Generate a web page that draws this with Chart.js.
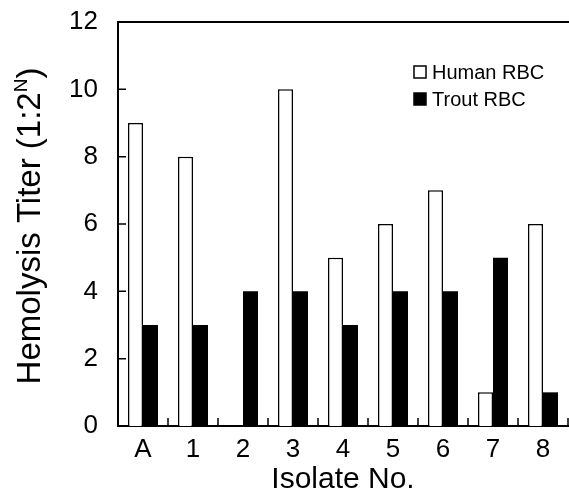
<!DOCTYPE html>
<html>
<head>
<meta charset="utf-8">
<script src="https://cdn.jsdelivr.net/npm/chart.js@4.4.0/dist/chart.umd.min.js"></script>
<style>
  html, body { margin: 0; padding: 0; background: #fff; }
  #wrap { width: 569px; height: 500px; }
</style>
</head>
<body>
<div id="wrap"><canvas id="chart" width="569" height="500"></canvas></div>
<script>
// Data
const isolates = ['A', '1', '2', '3', '4', '5', '6', '7', '8'];
const humanRBC = [9, 8, 0, 10, 5, 6, 7, 1, 6];
const troutRBC = [3, 3, 4, 4, 3, 4, 4, 5, 1];
const yTicks = [0, 2, 4, 6, 8, 10, 12];

const FONT = '"Liberation Sans", Arial, Helvetica, sans-serif';

// inward tick marks, top frame line, y title with superscript, legend
const decorations = {
  id: 'decorations',
  afterDatasetsDraw(chart) {
    const {ctx, chartArea: a, scales: {x, y}} = chart;
    ctx.save();
    ctx.strokeStyle = '#000';
    ctx.lineWidth = 1.5;
    ctx.beginPath();
    yTicks.forEach(v => {
      const py = y.getPixelForValue(v);
      ctx.moveTo(a.left, py);
      ctx.lineTo(a.left + 8, py);
    });
    for (let i = 0; i < isolates.length; i++) {
      const px = x.getPixelForValue(i + 0.5);
      ctx.moveTo(px, a.bottom);
      ctx.lineTo(px, a.bottom - 8);
    }
    ctx.stroke();

    // top frame
    ctx.lineWidth = 2;
    ctx.beginPath();
    ctx.moveTo(a.left, a.top);
    ctx.lineTo(a.right + 2, a.top);
    ctx.stroke();

    // y axis title
    ctx.fillStyle = '#000';
    ctx.translate(40, 226);
    ctx.rotate(-Math.PI / 2);
    ctx.textBaseline = 'alphabetic';
    const main = 'Hemolysis Titer (1:2';
    ctx.font = '33px ' + FONT;
    const w1 = ctx.measureText(main).width;
    ctx.font = '19px ' + FONT;
    const w2 = ctx.measureText('N').width;
    ctx.font = '33px ' + FONT;
    const w3 = ctx.measureText(')').width;
    let sx = -(w1 + w2 + w3) / 2;
    ctx.fillText(main, sx, 0);
    sx += w1;
    ctx.font = '19px ' + FONT;
    ctx.fillText('N', sx, -13);
    sx += w2;
    ctx.font = '33px ' + FONT;
    ctx.fillText(')', sx, 0);
    ctx.restore();

    // legend
    ctx.save();
    ctx.font = '20px ' + FONT;
    ctx.textBaseline = 'middle';
    chart.data.datasets.forEach((ds, i) => {
      const cy = 72 + i * 27;
      ctx.fillStyle = ds.backgroundColor;
      ctx.fillRect(414, cy - 6, 12, 12);
      ctx.strokeStyle = '#000';
      ctx.lineWidth = 1.5;
      ctx.strokeRect(414, cy - 6, 12, 12);
      ctx.fillStyle = '#000';
      ctx.fillText(ds.label, 432, cy + 1);
    });
    ctx.restore();
  }
};

new Chart(document.getElementById('chart'), {
  type: 'bar',
  data: {
    labels: isolates,
    datasets: [
      {
        label: 'Human RBC',
        data: humanRBC,
        backgroundColor: '#ffffff',
        borderColor: '#000000',
        borderWidth: 1.5,
        categoryPercentage: 0.6,
        barPercentage: 1.0
      },
      {
        label: 'Trout RBC',
        data: troutRBC,
        backgroundColor: '#000000',
        borderColor: '#000000',
        borderWidth: 0,
        categoryPercentage: 0.6,
        barPercentage: 1.0
      }
    ]
  },
  options: {
    responsive: false,
    animation: false,
    layout: {padding: {top: 22, right: 1, left: 0, bottom: 0}},
    plugins: {
      legend: {display: false},
      tooltip: {enabled: false}
    },
    scales: {
      x: {
        offset: true,
        grid: {display: false, drawTicks: false, tickLength: 0},
        border: {display: true, color: '#000', width: 2},
        ticks: {color: '#000', padding: 8, font: {family: FONT, size: 26}},
        title: {
          display: true,
          text: 'Isolate No.',
          color: '#000',
          padding: {top: 0, bottom: 2},
          font: {family: FONT, size: 30}
        },
        afterFit: s => { s.height = 74; s.paddingLeft = 0; s.paddingRight = 0; }
      },
      y: {
        min: 0,
        max: 12,
        grid: {display: false, drawTicks: false, tickLength: 0},
        border: {display: true, color: '#000', width: 2},
        ticks: {
          stepSize: 2,
          color: '#000',
          padding: 20,
          font: {family: FONT, size: 26}
        },
        afterFit: s => { s.width = 118; s.paddingTop = 0; s.paddingBottom = 0; }
      }
    }
  },
  plugins: [decorations]
});
</script>
</body>
</html>
